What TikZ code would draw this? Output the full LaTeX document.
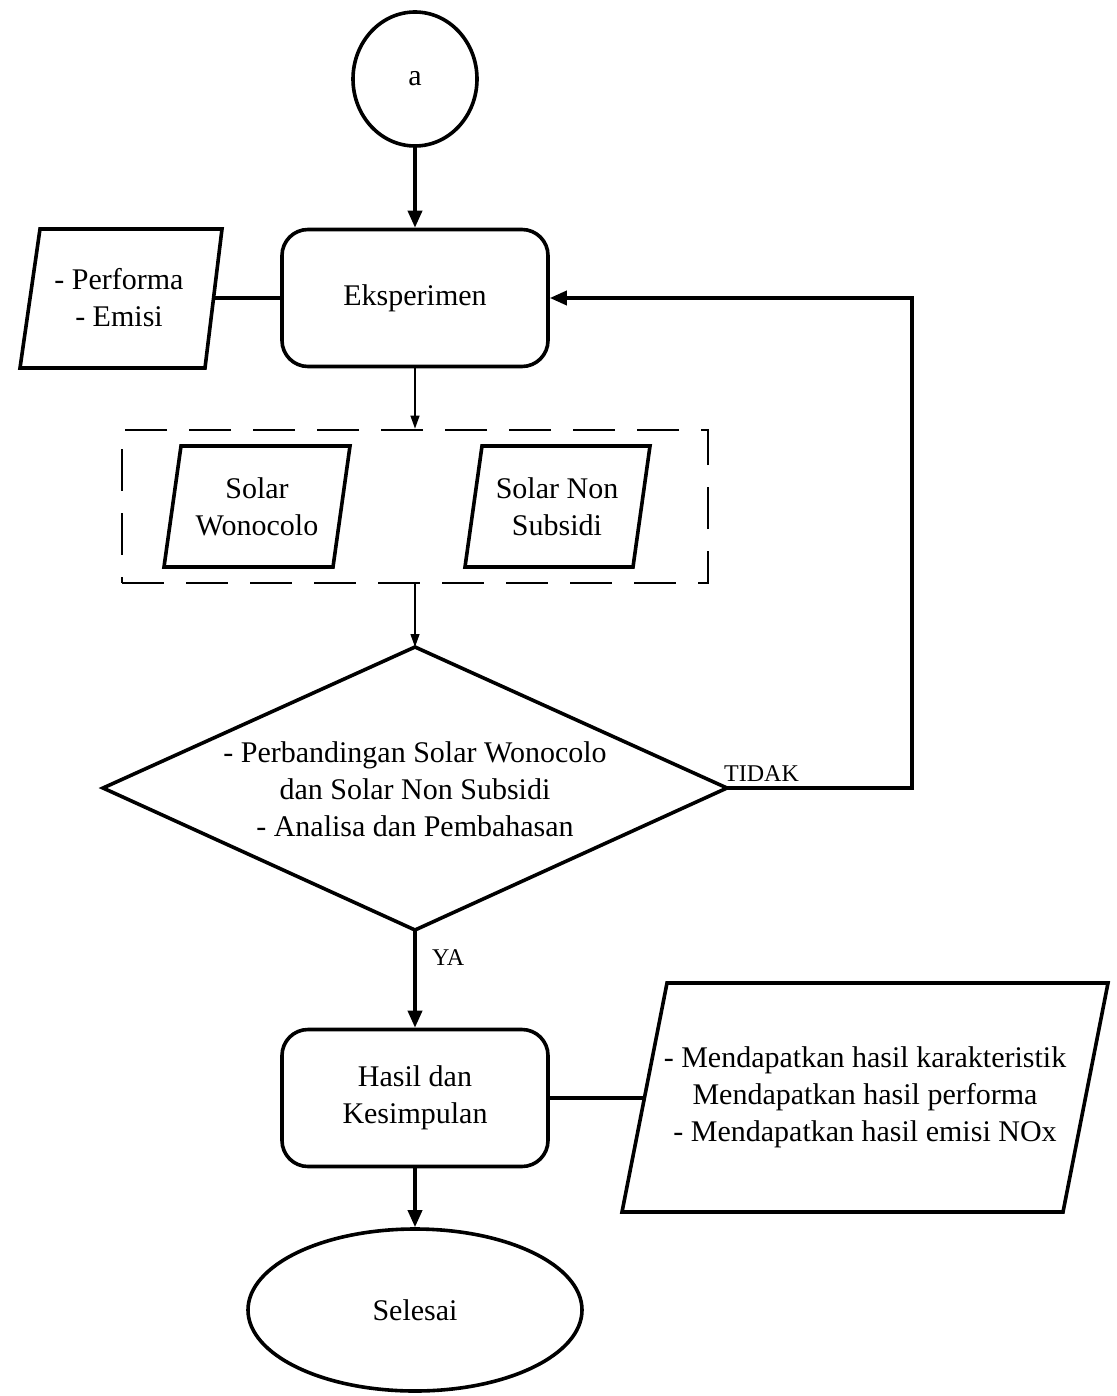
\documentclass[tikz,border=0pt]{standalone}
\usepackage{fontspec}
\setmainfont{Liberation Serif}
\usetikzlibrary{shapes.geometric,arrows.meta}
\newcommand\mainsize{\fontsize{30}{37}\selectfont}
\newcommand\smallsize{\fontsize{24}{28}\selectfont}
\tikzset{
  thk/.style={line width=3.6pt, line join=miter},
  proc/.style={draw, thk, rounded corners=26pt, minimum width=266pt, minimum height=137pt, align=center, font=\mainsize, inner sep=0pt},
  txt/.style={align=center, font=\mainsize, inner sep=0pt},
  lbl/.style={font=\smallsize, inner sep=0pt},
  arr/.style={-{Triangle[length=17pt,width=14pt]}, line width=3.6pt},
  thinarr/.style={-{Triangle[length=13pt,width=9pt]}, line width=1.3pt},
  grpbox/.style={draw, line width=2.8pt, dash pattern=on 42pt off 22pt, minimum width=586pt, minimum height=153pt, inner sep=0pt},
}
\begin{document}
\begin{tikzpicture}[x=1pt,y=-1pt]
\useasboundingbox (0,0) rectangle (1116,1396);

% start connector
\node[draw, thk, ellipse, minimum width=124pt, minimum height=134pt, inner sep=0pt, font=\mainsize] (a) at (415,79) {a};

% Eksperimen
\node[proc] (eks) at (415,298) {Eksperimen};

% Performa / Emisi input
\coordinate (pTL) at (40,229);
\coordinate (pTR) at (222,229);
\coordinate (pBR) at (205,368);
\coordinate (pBL) at (20,368);
\draw[thk] (pTL) -- (pTR) -- (pBR) -- (pBL) -- cycle;
\node[txt] (perf) at (119,298) {- Performa\\- Emisi};
\coordinate (pR) at (213.5,298);

% group of fuels
\node[grpbox] (grp) at (415,506.5) {};
\coordinate (sTL) at (181,446);
\coordinate (sTR) at (350,446);
\coordinate (sBR) at (333,567);
\coordinate (sBL) at (164,567);
\draw[thk] (sTL) -- (sTR) -- (sBR) -- (sBL) -- cycle;
\node[txt] (sw) at (257,507) {Solar\\Wonocolo};
\coordinate (nTL) at (482,446);
\coordinate (nTR) at (650,446);
\coordinate (nBR) at (633,567);
\coordinate (nBL) at (465,567);
\draw[thk] (nTL) -- (nTR) -- (nBR) -- (nBL) -- cycle;
\node[txt] (sn) at (557,507) {Solar Non\\Subsidi};

% decision
\coordinate (dT) at (415,647);
\coordinate (dR) at (727,788);
\coordinate (dB) at (415,930);
\coordinate (dL) at (103,788);
\draw[thk] (dT) -- (dR) -- (dB) -- (dL) -- cycle;
\node[txt] (dec) at (415,789) {- Perbandingan Solar Wonocolo\\dan Solar Non Subsidi\\- Analisa dan Pembahasan};
\coordinate (loopx) at (912,0);

% results
\node[proc] (hasil) at (415,1098) {Hasil dan\\Kesimpulan};
\coordinate (oTL) at (667,983);
\coordinate (oTR) at (1108,983);
\coordinate (oBR) at (1063,1212);
\coordinate (oBL) at (622,1212);
\draw[thk] (oTL) -- (oTR) -- (oBR) -- (oBL) -- cycle;
\node[txt] (out) at (865,1097) {- Mendapatkan hasil karakteristik\\Mendapatkan hasil performa\\- Mendapatkan hasil emisi NOx};
\coordinate (oL) at (644.5,1098);

% end
\node[draw, thk, ellipse, minimum width=334pt, minimum height=162pt, inner sep=0pt, font=\mainsize] (end) at (415,1310) {Selesai};

% connectors
\draw[arr] (a) -- (eks);
\draw[thk] (pR) -- (eks.west);
\draw[thinarr] (eks.south) -- (grp.north);
\draw[thinarr] (grp.south) -- (dT);
\draw[arr] (dR) -- (dR -| loopx) |- (eks.east);
\node[lbl, anchor=south west] (tidak) at (724,782) {TIDAK};
\draw[arr] (dB) -- (hasil.north);
\node[lbl, anchor=west] (ya) at (432,958) {YA};
\draw[thk] (hasil.east) -- (oL);
\draw[arr] (hasil.south) -- (end.north);
\end{tikzpicture}
\end{document}
